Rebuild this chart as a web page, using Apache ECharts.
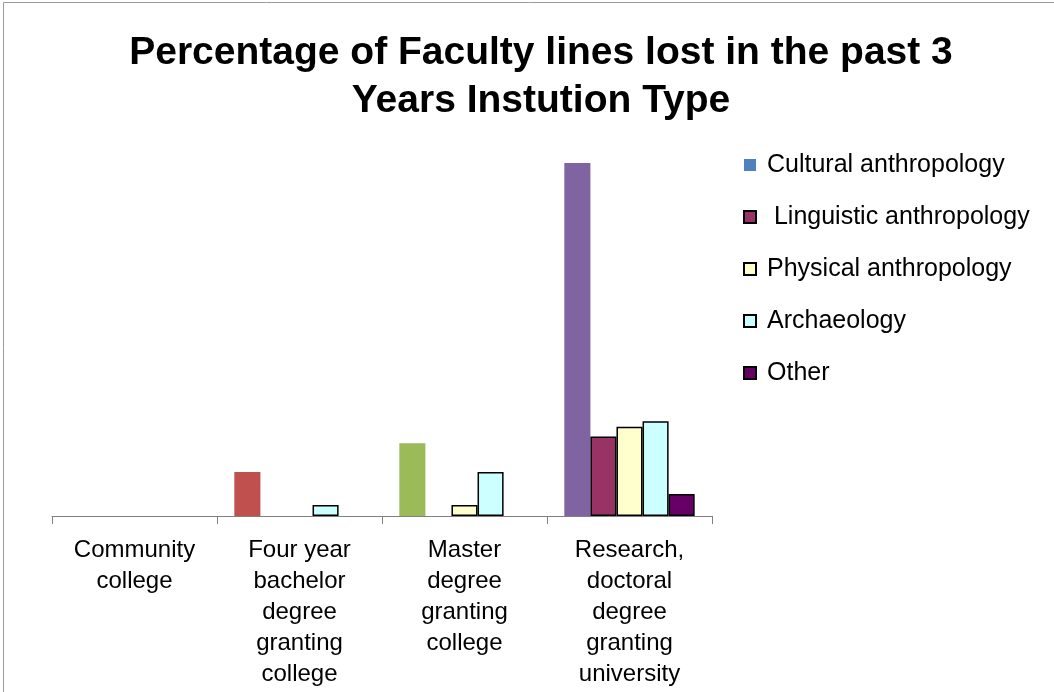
<!DOCTYPE html>
<html>
<head>
<meta charset="utf-8">
<title>Faculty lines lost</title>
<script src="https://cdn.jsdelivr.net/npm/echarts@6/dist/echarts.min.js"></script>
<style>
    html, body { margin: 0; padding: 0; background: #fff; }
    #chart { width: 1054px; height: 692px; }
</style>
</head>
<body>
<div id="chart"></div>
<script>
// categories (institution type)
const categories = [
    'Community\ncollege',
    'Four year\nbachelor\ndegree\ngranting\ncollege',
    'Master\ndegree\ngranting\ncollege',
    'Research,\ndoctoral\ndegree\ngranting\nuniversity'
];

// values (no y axis in the original)
const cultural = [0, 4, 6.6, 32];
const linguistic = [0, 0, 0, 7.2];
const physical = [0, 0, 1, 8.1];
const archaeology = [0, 1, 4, 8.6];
const other = [0, 0, 0, 2];

// the first series uses a different colour on each category
const culturalPointColors = ['#4F81BD', '#C0504D', '#9BBB59', '#8064A2'];

// empty bars are not drawn at all (no outline on the baseline)
const skipZero = arr => arr.map(v => (v === 0 ? null : v));

const chart = echarts.init(document.getElementById('chart'));

const outlined = (name, data, color) => ({
    name: name,
    type: 'bar',
    data: skipZero(data),
    barGap: '0%',
    barCategoryGap: '21%',
    itemStyle: { color: color, borderColor: '#000', borderWidth: 1.5 }
});

const option = {
    animation: false,
    textStyle: { fontFamily: 'Liberation Sans, Arial, sans-serif' },
    title: {
        text: 'Percentage of Faculty lines lost in the past 3\nYears Instution Type',
        left: 536,
        top: 24,
        textAlign: 'center',
        textStyle: {
            fontSize: 39,
            fontWeight: 'bold',
            color: '#000',
            lineHeight: 48,
            fontFamily: 'Liberation Sans, Arial, sans-serif'
        }
    },
    legend: {
        orient: 'vertical',
        left: 743,
        top: 152,
        padding: 0,
        itemWidth: 12,
        itemHeight: 12,
        itemGap: 26,
        icon: 'rect',
        textStyle: { fontSize: 25, color: '#000', lineHeight: 26, padding: [0, 0, 0, 6] },
        data: ['Cultural anthropology', ' Linguistic anthropology', 'Physical anthropology', 'Archaeology', 'Other']
    },
    grid: { left: 52, right: 342, top: 163, bottom: 176, containLabel: false },
    xAxis: {
        type: 'category',
        data: categories,
        axisLine: { lineStyle: { color: '#808080', width: 1 } },
        axisTick: { show: true, length: 8, lineStyle: { color: '#808080' } },
        axisLabel: {
            interval: 0,
            fontSize: 24,
            lineHeight: 31,
            color: '#000',
            margin: 19
        }
    },
    yAxis: {
        type: 'value',
        min: 0,
        max: 32,
        show: false,
        splitLine: { show: false }
    },
    graphic: [{
        type: 'polyline',
        shape: { points: [[3.5, 700], [3.5, 2.5], [1060, 2.5]] },
        style: { stroke: '#9a9a9a', lineWidth: 1, fill: null }
    }],
    series: [
        {
            name: 'Cultural anthropology',
            type: 'bar',
            data: cultural.map((v, i) => (v === 0 ? null : { value: v, itemStyle: { color: culturalPointColors[i] } })),
            barGap: '0%',
            barCategoryGap: '21%',
            itemStyle: { color: '#4F81BD' }
        },
        outlined(' Linguistic anthropology', linguistic, '#993366'),
        outlined('Physical anthropology', physical, '#FFFFCC'),
        outlined('Archaeology', archaeology, '#CCFFFF'),
        outlined('Other', other, '#660066')
    ]
};

chart.setOption(option);
</script>
</body>
</html>
